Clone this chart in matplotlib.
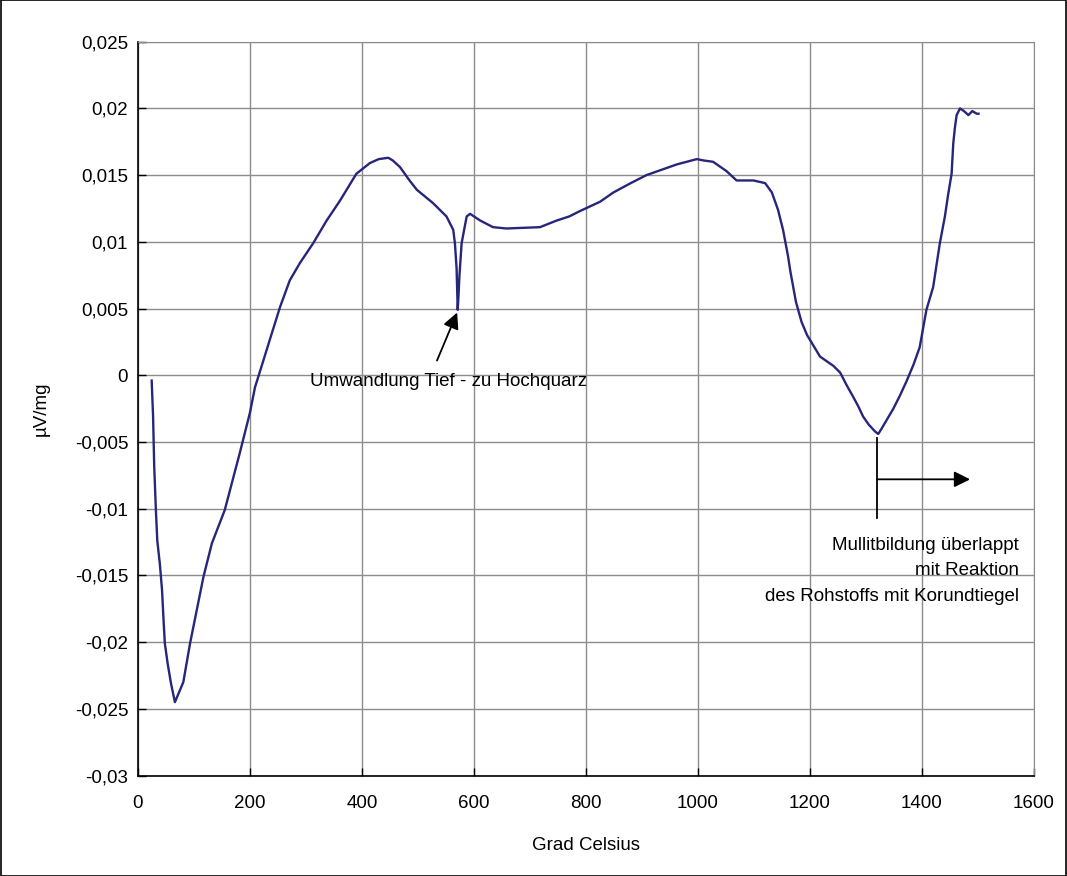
import matplotlib
matplotlib.use("Agg")
import matplotlib.pyplot as plt
from matplotlib.patches import Rectangle

plt.rcParams['font.family'] = ['Liberation Sans', 'DejaVu Sans']

# DTA curve (temperature in degC, signal in uV/mg)
temp = [24.5, 27, 29, 32, 34.5, 39, 43, 46, 48, 53, 59, 66, 81, 93, 117, 132, 155,
        182, 200, 209, 215, 235, 253.6, 271, 289, 313, 337, 361, 390, 414, 430,
        447, 455, 468, 485, 498, 527, 551, 563, 566, 569, 571, 572.5, 574, 578,
        587, 593, 611, 634, 658, 718, 748, 770, 789, 825, 849, 880, 908, 935,
        962, 998, 1010, 1027, 1051, 1069, 1099, 1120, 1132, 1143, 1152, 1161,
        1165, 1175, 1185, 1195, 1208, 1218, 1242, 1254, 1265, 1277, 1286, 1295,
        1305, 1316, 1322, 1328, 1349, 1361, 1373, 1385, 1396, 1408, 1420, 1432,
        1441, 1447, 1453, 1456, 1459, 1462, 1468, 1475, 1483, 1490, 1498, 1501]
signal = [-0.0004, -0.0031, -0.0068, -0.0101, -0.0124, -0.0141, -0.0161, -0.0186,
          -0.0201, -0.0216, -0.0231, -0.0245, -0.0230, -0.0201, -0.0151, -0.0126,
          -0.0101, -0.0058, -0.0028, -0.0009, -0.0001, 0.0026, 0.0051, 0.0071,
          0.0084, 0.0099, 0.0116, 0.0131, 0.0151, 0.0159, 0.0162, 0.0163, 0.0161,
          0.0156, 0.0146, 0.0139, 0.0129, 0.0119, 0.0109, 0.0099, 0.0080, 0.0049,
          0.0060, 0.0074, 0.0099, 0.0119, 0.0121, 0.0116, 0.0111, 0.0110, 0.0111,
          0.0116, 0.0119, 0.0123, 0.0130, 0.0137, 0.0144, 0.0150, 0.0154, 0.0158,
          0.0162, 0.0161, 0.0160, 0.0153, 0.0146, 0.0146, 0.0144, 0.0137, 0.0124,
          0.0109, 0.0089, 0.0078, 0.0055, 0.0040, 0.0030, 0.0021, 0.0014, 0.0007,
          0.0002, -0.0007, -0.0016, -0.0023, -0.0031, -0.0037, -0.0042, -0.0044,
          -0.0040, -0.0025, -0.0015, -0.0004, 0.0008, 0.0021, 0.0049, 0.0066,
          0.0099, 0.0119, 0.0136, 0.0151, 0.0174, 0.0186, 0.0195, 0.0200, 0.0198,
          0.0195, 0.0198, 0.0196, 0.0196]

xticks = [0, 200, 400, 600, 800, 1000, 1200, 1400, 1600]
yticks = [0.025, 0.02, 0.015, 0.01, 0.005, 0, -0.005, -0.01, -0.015, -0.02, -0.025, -0.03]
ytick_labels = ['0,025', '0,02', '0,015', '0,01', '0,005', '0', '-0,005', '-0,01',
                '-0,015', '-0,02', '-0,025', '-0,03']

fs = 13.5

fig = plt.figure(figsize=(10.67, 8.76), dpi=100)
ax = fig.add_axes([0.1293, 0.1147, 0.8397, 0.8377])

ax.plot(temp, signal, color='#26267a', lw=1.7)

ax.set_xlim(0, 1600)
ax.set_ylim(-0.03, 0.025)
ax.set_xticks(xticks)
ax.set_xticklabels([str(t) for t in xticks])
ax.set_yticks(yticks)
ax.set_yticklabels(ytick_labels)
ax.tick_params(direction='in', length=6, width=1, labelsize=fs)
ax.tick_params(axis='x', pad=14)
ax.tick_params(axis='y', pad=7)
ax.grid(True, color='#8c8c8c', lw=1)
ax.set_axisbelow(True)
for s in ['top', 'right']:
    ax.spines[s].set_color('#8c8c8c')
for s in ['left', 'bottom']:
    ax.spines[s].set_color('black')
    ax.spines[s].set_linewidth(1.2)

ax.set_xlabel('Grad Celsius', fontsize=fs, labelpad=18)
ax.set_ylabel('µV/mg', fontsize=fs, labelpad=18)

# annotations
ax.annotate('', xy=(570, 0.0047), xytext=(534, 0.0011),
            arrowprops=dict(arrowstyle='-|>', color='black', lw=1.3,
                            mutation_scale=24, shrinkA=0, shrinkB=0))
ax.text(307, -0.0005, 'Umwandlung Tief - zu Hochquarz', fontsize=fs,
        ha='left', va='center')

ax.plot([1320, 1320], [-0.0047, -0.0107], color='black', lw=1.3)
ax.annotate('', xy=(1486, -0.0078), xytext=(1320, -0.0078),
            arrowprops=dict(arrowstyle='-|>', color='black', lw=1.3,
                            mutation_scale=24, shrinkA=0, shrinkB=0))
ax.text(1573, -0.0121, 'Mullitbildung überlappt\nmit Reaktion\ndes Rohstoffs mit Korundtiegel',
        fontsize=fs, ha='right', va='top', linespacing=1.65)

fig.patches.append(Rectangle((0.0005, 0.0005), 0.999, 0.999, transform=fig.transFigure,
                             fill=False, edgecolor='black', lw=1.2))

fig.savefig('out.png', dpi=100)
